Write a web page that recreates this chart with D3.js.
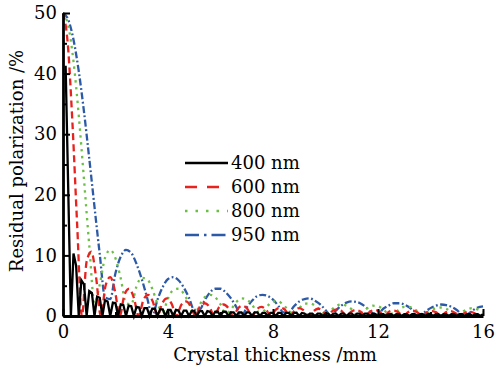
<!DOCTYPE html>
<html>
<head>
<meta charset="utf-8">
<script src="https://cdn.jsdelivr.net/npm/d3@7"></script>
<style>
  body { margin: 0; background: #fff; }
  text { font-family: "DejaVu Serif", serif; fill: #000; }
</style>
</head>
<body>
<svg id="chart"></svg>
<script>
// wavelengths shown in the legend
const wavelengths = ["400 nm", "600 nm", "800 nm", "950 nm"];

// sampling of each curve: first thickness (mm) and step (mm)
const start400 = 0.1, step400 = 0.1;
const start600 = 0, step600 = 0.18;
const start800 = 0, step800 = 0.2;
const start950 = 0, step950 = 0.2;

// residual polarization (%)
const residual400 = [
  41.3, 20.7, 0, 10.3, 8.3, 0, 5.9, 5.2, 0, 4.1, 3.8, 0,
  3.2, 3.0, 0, 2.6, 2.4, 0, 2.2, 2.1, 0, 1.9, 1.8, 0,
  1.7, 1.6, 0, 1.5, 1.4, 0, 1.3, 1.3, 0, 1.2, 1.2, 0,
  1.1, 1.1, 0, 1.0, 1.0, 0, 1.0, 0.9, 0, 0.9, 0.9, 0,
  0.8, 0.8, 0, 0.8, 0.8, 0, 0.8, 0.7, 0, 0.7, 0.7, 0,
  0.7, 0.7, 0, 0.6, 0.6, 0, 0.6, 0.6, 0, 0.6, 0.6, 0,
  0.6, 0.6, 0, 0.5, 0.5, 0, 0.5, 0.5, 0, 0.5, 0.5, 0,
  0.5, 0.5, 0, 0.5, 0.5, 0, 0.5, 0.4, 0, 0.4, 0.4, 0,
  0.4, 0.4, 0, 0.4, 0.4, 0, 0.4, 0.4, 0, 0.4, 0.4, 0,
  0.4, 0.4, 0, 0.4, 0.4, 0, 0.4, 0.4, 0, 0.4, 0.3, 0,
  0.3, 0.3, 0, 0.3, 0.3, 0, 0.3, 0.3, 0, 0.3, 0.3, 0,
  0.3, 0.3, 0, 0.3, 0.3, 0, 0.3, 0.3, 0, 0.3, 0.3, 0,
  0.3, 0.3, 0, 0.3, 0.3, 0, 0.3, 0.3, 0, 0.3, 0.3, 0,
  0.3, 0.3, 0, 0.3
];
const residual600 = [
  50, 45.0, 31.8, 15.0, 0, 9.0, 10.6, 6.4, 0, 5.0, 6.4, 4.1,
  0, 3.5, 4.5, 3.0, 0, 2.6, 3.5, 2.4, 0, 2.1, 2.9, 2.0,
  0, 1.8, 2.4, 1.7, 0, 1.6, 2.1, 1.5, 0, 1.4, 1.9, 1.3,
  0, 1.2, 1.7, 1.2, 0, 1.1, 1.5, 1.0, 0, 1.0, 1.4, 1.0,
  0, 0.9, 1.3, 0.9, 0, 0.8, 1.2, 0.8, 0, 0.8, 1.1, 0.8,
  0, 0.7, 1.0, 0.7, 0, 0.7, 1.0, 0.7, 0, 0.7, 0.9, 0.6,
  0, 0.6, 0.9, 0.6, 0, 0.6, 0.8, 0.6, 0, 0.6, 0.8, 0.5,
  0, 0.5, 0.7, 0.5, 0
];
const residual800 = [
  50, 47.9, 42.0, 33.1, 22.5, 11.7, 2.1, 5.2, 9.6, 10.9,
  9.5, 6.2, 2.1, 1.9, 4.9, 6.3, 6.1, 4.5, 2.0, 0.7,
  2.9, 4.3, 4.5, 3.7, 2.0, 0, 1.8, 3.1, 3.5, 3.1,
  1.9, 0.4, 1.1, 2.3, 2.9, 2.7, 1.9, 0.7, 0.7, 1.7,
  2.4, 2.4, 1.8, 0.9, 0.3, 1.3, 2.0, 2.1, 1.7, 1.0,
  0, 0.9, 1.6, 1.9, 1.7, 1.1, 0.2, 0.6, 1.3, 1.7,
  1.6, 1.1, 0.4, 0.4, 1.1, 1.5, 1.5, 1.1, 0.5, 0.2,
  0.8, 1.3, 1.4, 1.2, 0.6, 0, 0.6, 1.1, 1.3, 1.1, 0.7
];
const residual950 = [
  50, 48.9, 45.6, 40.4, 33.7, 26.0, 18.0, 10.2, 3.1, 2.8,
  7.1, 9.8, 10.9, 10.4, 8.6, 6.1, 3.1, 0, 2.7, 4.8,
  6.1, 6.4, 5.9, 4.7, 3.0, 1.0, 1.0, 2.6, 3.9, 4.5,
  4.5, 3.9, 2.9, 1.5, 0, 1.4, 2.5, 3.3, 3.5, 3.3,
  2.7, 1.7, 0.6, 0.6, 1.6, 2.4, 2.8, 2.9, 2.5, 1.9,
  1.0, 0, 0.9, 1.7, 2.2, 2.4, 2.3, 1.9, 1.2, 0.4,
  0.4, 1.2, 1.7, 2.1, 2.1, 1.9, 1.4, 0.7, 0, 0.7,
  1.3, 1.7, 1.9, 1.8, 1.5, 1.0, 0.3, 0.3, 0.9, 1.4, 1.6
];

const xTicks = [0, 4, 8, 12, 16];
const yTicks = [0, 10, 20, 30, 40, 50];

const width = 495, height = 371;
const margin = { left: 63, right: 12, top: 13, bottom: 55 };

const svg = d3.select("#chart")
  .attr("width", width)
  .attr("height", height);

const x = d3.scaleLinear().domain([0, 16]).range([margin.left, width - margin.right]);
const y = d3.scaleLinear().domain([0, 50]).range([height - margin.bottom, margin.top]);

const toPoints = (start, step, values) => values.map((v, i) => [start + i * step, v]);

const series = [
  { name: wavelengths[3], pts: toPoints(start950, step950, residual950), color: "#2d5aa6",
    dash: "7,2.5,1.8,2.5", legendDash: "14,5,2.5,5", curve: d3.curveMonotoneX },
  { name: wavelengths[2], pts: toPoints(start800, step800, residual800), color: "#6cbf45",
    dash: "2.4,4.5", legendDash: "2.5,8", curve: d3.curveMonotoneX },
  { name: wavelengths[1], pts: toPoints(start600, step600, residual600), color: "#e8221e",
    dash: "7,4", legendDash: "12,10", curve: d3.curveMonotoneX },
  { name: wavelengths[0], pts: toPoints(start400, step400, residual400), color: "#000000",
    dash: null, legendDash: null, curve: d3.curveLinear }
];

// curves
const line = d3.line().x(d => x(d[0])).y(d => y(d[1]));
svg.append("g").attr("class", "curves")
  .selectAll("path")
  .data(series)
  .join("path")
  .attr("d", d => line.curve(d.curve)(d.pts))
  .attr("fill", "none")
  .attr("stroke", d => d.color)
  .attr("stroke-width", 2.3)
  .attr("stroke-dasharray", d => d.dash);

// axes (ticks point inward)
svg.append("g")
  .attr("transform", `translate(${margin.left},0)`)
  .call(d3.axisLeft(y).tickValues(yTicks).tickSize(-7).tickSizeOuter(0).tickPadding(6));
svg.append("g")
  .attr("transform", `translate(${margin.left},0)`)
  .call(d3.axisLeft(y).tickValues([5, 15, 25, 35, 45]).tickSize(-4).tickSizeOuter(0).tickFormat(""))
  .call(g => g.select(".domain").remove());

svg.append("g")
  .attr("transform", `translate(0,${y(0)})`)
  .call(d3.axisBottom(x).tickValues(xTicks).tickSize(-7).tickSizeOuter(0).tickPadding(9));
svg.append("g")
  .attr("transform", `translate(0,${y(0)})`)
  .call(d3.axisBottom(x).tickValues([2, 6, 10, 14]).tickSize(-4).tickSizeOuter(0).tickFormat(""))
  .call(g => g.select(".domain").remove());

svg.selectAll(".domain").attr("stroke", "#000").attr("stroke-width", 2.8);
svg.selectAll(".tick line").attr("stroke", "#000").attr("stroke-width", 2);
svg.selectAll(".tick text")
  .style("font-family", "'DejaVu Serif', serif")
  .style("font-size", "18px")
  .attr("fill", "#000");

// axis titles
svg.append("text")
  .attr("x", 275).attr("y", 361)
  .attr("text-anchor", "middle")
  .style("font-size", "18px")
  .text("Crystal thickness /mm");

svg.append("text")
  .attr("transform", "translate(23,161) rotate(-90)")
  .attr("text-anchor", "middle")
  .style("font-size", "18px")
  .text("Residual polarization /%");

// legend
const legend = svg.append("g").attr("transform", "translate(185,163)");
const legendItems = legend.selectAll("g")
  .data(series.slice().reverse())
  .join("g")
  .attr("transform", (d, i) => `translate(0,${i * 24})`);
legendItems.append("line")
  .attr("x1", 0).attr("x2", 43)
  .attr("stroke", d => d.color)
  .attr("stroke-width", 2.3)
  .attr("stroke-dasharray", d => d.legendDash);
legendItems.append("text")
  .attr("x", 46)
  .attr("dy", "0.36em")
  .style("font-size", "18px")
  .text(d => d.name);
</script>
</body>
</html>
